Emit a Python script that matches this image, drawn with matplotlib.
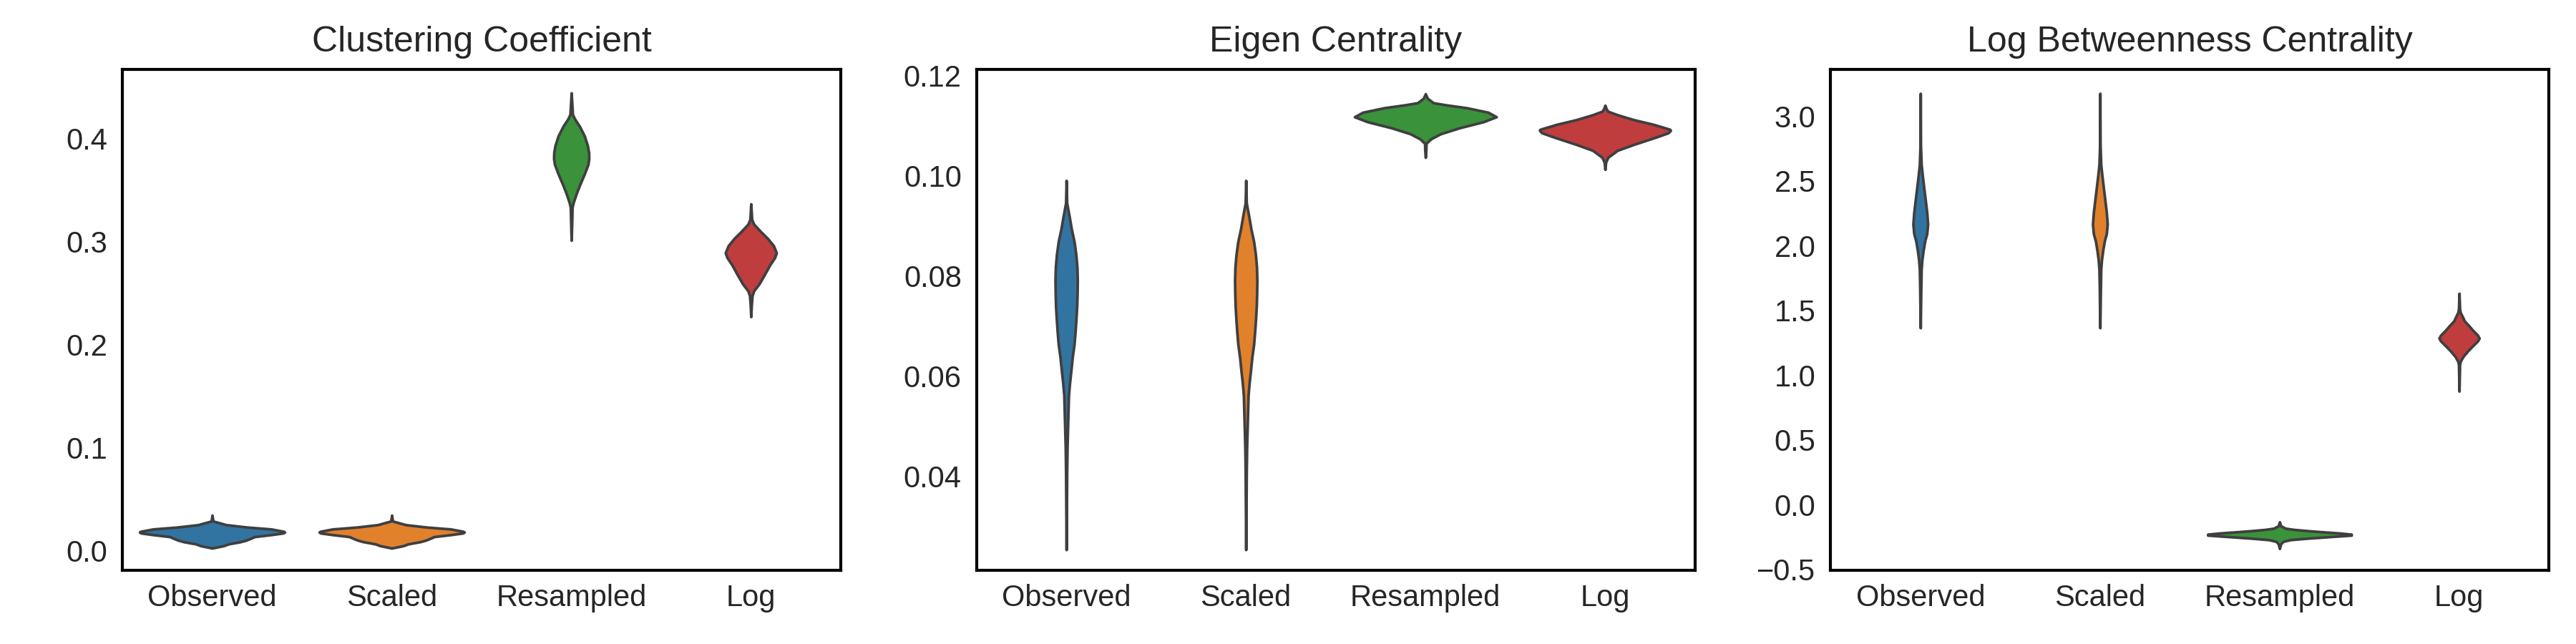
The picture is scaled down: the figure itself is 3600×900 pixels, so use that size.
import matplotlib
matplotlib.use("Agg")
import matplotlib.pyplot as plt
import seaborn as sns
import numpy as np

sns.set_style("white")
plt.rcParams['font.family'] = ['Liberation Sans', 'DejaVu Sans']

categories = ["Observed", "Scaled", "Resampled", "Log"]
colors = ["#3274a1", "#e1812c", "#3a923a", "#c03d3e"]
edge = "#3f3f3f"

# violin profiles: value along y, half width of the body
# --- Clustering Coefficient
cc_obs_val = [0.0343, 0.0286, 0.0263, 0.0251, 0.0227, 0.0209, 0.0186, 0.0179, 0.0170,
              0.0154, 0.0135, 0.0119, 0.0101, 0.0085, 0.0065, 0.0047, 0.0024]
cc_obs_w = [0.0, 0.005, 0.053, 0.077, 0.197, 0.329, 0.398, 0.404, 0.396,
            0.329, 0.236, 0.216, 0.190, 0.157, 0.093, 0.064, 0.0]
cc_res_val = [0.4438, 0.4229, 0.4183, 0.4114, 0.4021, 0.3929, 0.3860, 0.3802, 0.3744,
              0.3652, 0.3559, 0.3467, 0.3374, 0.3328, 0.3189, 0.3009]
cc_res_w = [0.0, 0.007, 0.020, 0.046, 0.073, 0.090, 0.097, 0.098, 0.093,
            0.073, 0.050, 0.029, 0.011, 0.005, 0.003, 0.0]
cc_log_val = [0.3362, 0.3212, 0.3166, 0.3096, 0.3027, 0.2957, 0.2888, 0.2842, 0.2772,
              0.2680, 0.2587, 0.2518, 0.2471, 0.2379, 0.2268]
cc_log_w = [0.0, 0.005, 0.016, 0.053, 0.093, 0.126, 0.142, 0.133, 0.106,
            0.077, 0.046, 0.016, 0.007, 0.003, 0.0]

# --- Eigen Centrality
ec_obs_val = [0.0990, 0.0945, 0.0920, 0.0893, 0.0868, 0.0842, 0.0817, 0.0791, 0.0766,
              0.0740, 0.0715, 0.0689, 0.0663, 0.0637, 0.0612, 0.0586, 0.0561, 0.0509,
              0.0457, 0.0406, 0.0253]
ec_obs_w = [0.0, 0.003, 0.016, 0.029, 0.044, 0.054, 0.060, 0.062, 0.061,
            0.059, 0.055, 0.050, 0.044, 0.034, 0.027, 0.019, 0.013, 0.009,
            0.005, 0.003, 0.0]
ec_res_val = [0.1163, 0.1154, 0.1145, 0.1141, 0.1135, 0.1126, 0.1117, 0.1107, 0.1095,
              0.1083, 0.1073, 0.1064, 0.1050, 0.1036]
ec_res_w = [0.0, 0.011, 0.044, 0.110, 0.230, 0.349, 0.395, 0.322, 0.190,
            0.084, 0.031, 0.004, 0.003, 0.0]
ec_log_val = [0.1140, 0.1133, 0.1128, 0.1121, 0.1111, 0.1102, 0.1092, 0.1090, 0.1085,
              0.1076, 0.1062, 0.1050, 0.1036, 0.1026, 0.1012]
ec_log_w = [0.0, 0.007, 0.016, 0.069, 0.162, 0.268, 0.361, 0.365, 0.352,
            0.281, 0.162, 0.069, 0.016, 0.004, 0.0]

# --- Log Betweenness Centrality
bc_obs_val = [3.176, 2.774, 2.626, 2.535, 2.442, 2.351, 2.258, 2.166, 2.092,
              2.037, 1.963, 1.890, 1.816, 1.668, 1.366]
bc_obs_w = [0.0, 0.0013, 0.005, 0.012, 0.020, 0.028, 0.036, 0.041, 0.036,
            0.025, 0.016, 0.009, 0.005, 0.003, 0.0]
bc_res_val = [-0.1322, -0.1635, -0.1819, -0.1912, -0.2003, -0.2096, -0.2187, -0.2280,
              -0.2353, -0.2464, -0.2593, -0.2704, -0.2832, -0.3016, -0.3385]
bc_res_w = [0.0, 0.007, 0.033, 0.080, 0.153, 0.240, 0.333, 0.400, 0.400,
            0.286, 0.153, 0.060, 0.020, 0.007, 0.0]
bc_log_val = [1.632, 1.513, 1.484, 1.448, 1.420, 1.384, 1.347, 1.309, 1.286,
              1.264, 1.227, 1.190, 1.144, 1.107, 1.080, 0.877]
bc_log_w = [0.0, 0.003, 0.007, 0.020, 0.029, 0.053, 0.076, 0.103, 0.112,
            0.103, 0.076, 0.050, 0.022, 0.007, 0.003, 0.0]

titles = ["Clustering Coefficient", "Eigen Centrality", "Log Betweenness Centrality"]
ylims = [(-0.0193, 0.4663), (0.02115, 0.1211), (-0.5077, 3.3586)]

# Scaled looks the same as Observed in every panel
panels = [
    [(cc_obs_val, cc_obs_w), (cc_obs_val, cc_obs_w), (cc_res_val, cc_res_w), (cc_log_val, cc_log_w)],
    [(ec_obs_val, ec_obs_w), (ec_obs_val, ec_obs_w), (ec_res_val, ec_res_w), (ec_log_val, ec_log_w)],
    [(bc_obs_val, bc_obs_w), (bc_obs_val, bc_obs_w), (bc_res_val, bc_res_w), (bc_log_val, bc_log_w)],
]


def draw_violins(ax, profiles, title, ylim):
    stats = []
    widths = []
    for val, w in profiles:
        val = np.asarray(val)
        w = np.asarray(w)
        stats.append(dict(coords=val[::-1], vals=w[::-1], mean=val.mean(),
                          median=np.median(val), min=val.min(), max=val.max()))
        widths.append(2 * w.max())
    parts = ax.violin(stats, positions=range(len(profiles)), widths=widths,
                      showmeans=False, showextrema=False, showmedians=False)
    for body, c in zip(parts['bodies'], colors):
        body.set_facecolor(c)
        body.set_edgecolor(edge)
        body.set_linewidth(0.9)
        body.set_alpha(1)
    ax.set_xticks(range(len(categories)))
    ax.set_xticklabels(categories)
    ax.set_xlim(-0.5, len(categories) - 0.5)
    ax.set_ylim(*ylim)
    ax.set_title(title)
    ax.tick_params(axis='x', length=0, labelsize=10, pad=4.5)
    ax.tick_params(axis='y', length=0, labelsize=10, pad=5)
    for sp in ax.spines.values():
        sp.set_color("black")
        sp.set_linewidth(1.0)


fig, axes = plt.subplots(1, 3, figsize=(12, 3), dpi=300)
for ax, prof, t, yl in zip(axes, panels, titles, ylims):
    draw_violins(ax, prof, t, yl)

plt.subplots_adjust(left=0.0475, right=0.9895, top=0.8917, bottom=0.1141, wspace=0.189)
fig.savefig("out.png", dpi=300)
